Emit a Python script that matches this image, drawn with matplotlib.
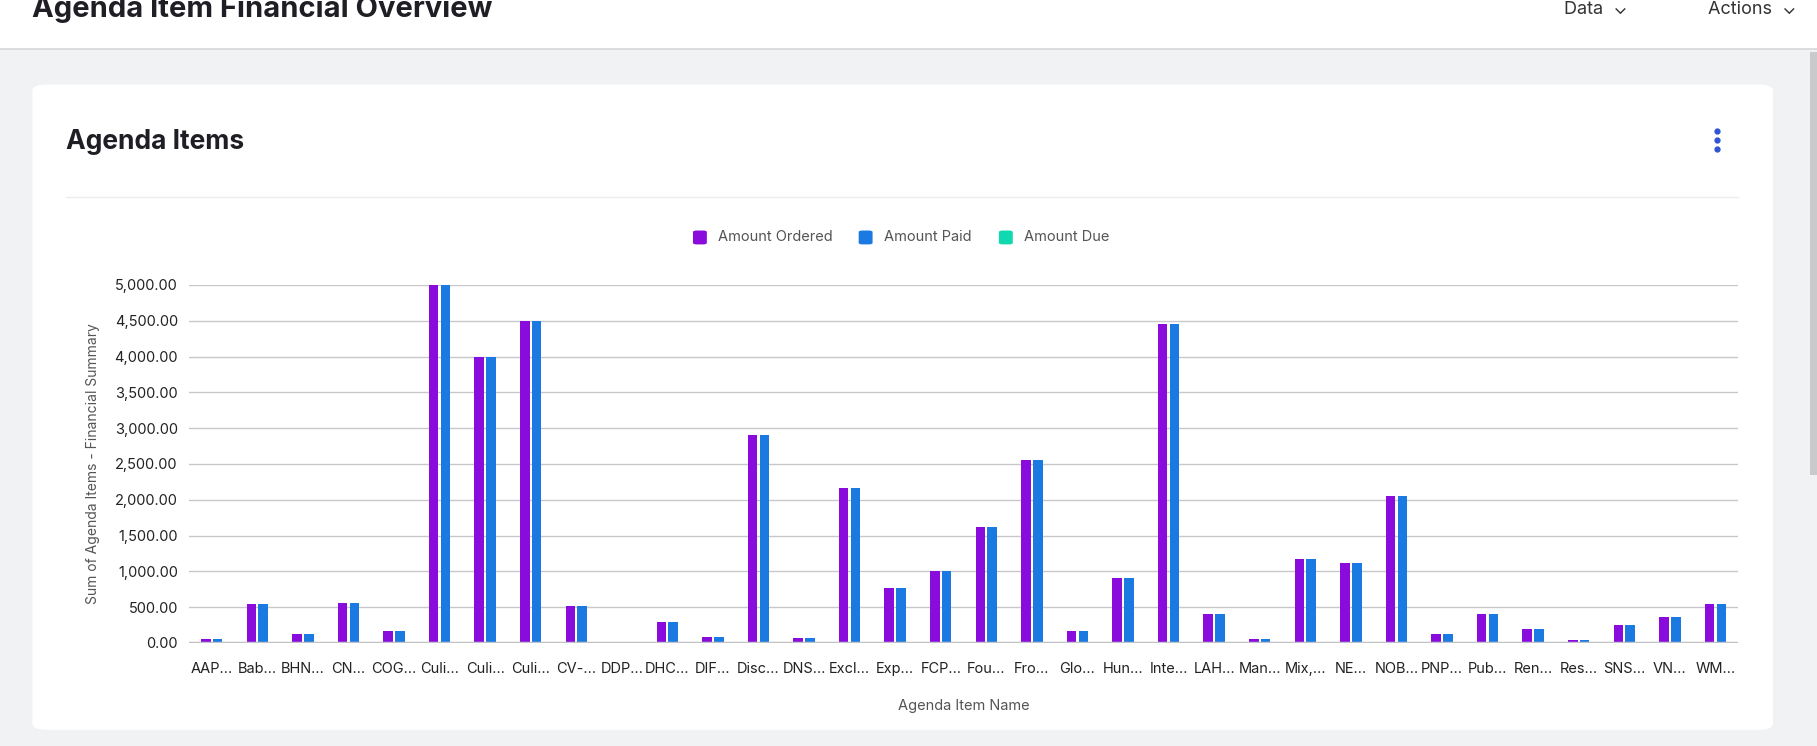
import numpy as np
import matplotlib
matplotlib.use('Agg')
import matplotlib.pyplot as plt
from matplotlib.patches import FancyBboxPatch, Rectangle

plt.rcParams['font.family'] = ['Inter', 'DejaVu Sans']

# ─── Data ──────────────────────────────────────────────────────────────────────
categories = ['AAP…', 'Bab…', 'BHN…', 'CN…', 'COG…', 'Culi…', 'Culi…', 'Culi…', 'CV-…',
              'DDP…', 'DHC…', 'DIF…', 'Disc…', 'DNS…', 'Excl…', 'Exp…', 'FCP…', 'Fou…',
              'Fro…', 'Glo…', 'Hun…', 'Inte…', 'LAH…', 'Man…', 'Mix,…', 'NE…', 'NOB…',
              'PNP…', 'Pub…', 'Ren…', 'Res…', 'SNS…', 'VN…', 'WM…']
amount_ordered = [60, 540, 130, 560, 170, 5000, 4000, 4500, 510, 0, 290, 80, 2900, 70,
                  2160, 770, 1010, 1620, 2550, 160, 900, 4460, 400, 50, 1170, 1120, 2050,
                  120, 410, 190, 40, 250, 360, 540]
amount_paid = list(amount_ordered)
amount_due = [0] * len(categories)
yticks = np.arange(0, 5001, 500)

W, H = 1568, 644
def fx(x): return x / W
def fy(y): return 1 - y / H

fig = plt.figure(figsize=(18.17, 7.46), dpi=100)
fig.patch.set_facecolor('#F1F2F4')

# header bar and card
fig.patches.append(Rectangle((0, fy(42)), 1, 1 - fy(42), transform=fig.transFigure,
                             facecolor='white', edgecolor='none', zorder=0))
fig.add_artist(plt.Line2D([0, 1], [fy(42), fy(42)], color='#D5D7DB', lw=1.2))
fig.patches.append(FancyBboxPatch((fx(28), fy(630)), fx(1530) - fx(28), fy(73) - fy(630),
                                  boxstyle='round,pad=0,rounding_size=0.008',
                                  transform=fig.transFigure, facecolor='white',
                                  edgecolor='none', zorder=0))
fig.add_artist(plt.Line2D([fx(57), fx(1500)], [fy(170), fy(170)], color='#ECEDEF', lw=1))
fig.patches.append(Rectangle((fx(1562), fy(410)), fx(6), fy(45) - fy(410),
                             transform=fig.transFigure, facecolor='#C9CACC', edgecolor='none'))

fig.text(fx(28), fy(8), 'Agenda Item Financial Overview', fontsize=21, fontweight='bold',
         color='#1E1E24', va='center')
fig.text(fx(1350), fy(8), 'Data  ⌄', fontsize=13, color='#333', va='center')
fig.text(fx(1474), fy(8), 'Actions  ⌄', fontsize=13, color='#333', va='center')
fig.text(fx(57), fy(123), 'Agenda Items', fontsize=19, fontweight='bold', color='#1E1E24', va='center')
for dy in (113, 121, 129):
    fig.add_artist(plt.Line2D([fx(1482)], [fy(dy)], marker='o', ms=3.5, color='#2F55D4'))

# legend
for lx, c, t in [(604, '#8A0CDD', 'Amount Ordered'), (747, '#1A7AE2', 'Amount Paid'),
                 (868, '#10D9B0', 'Amount Due')]:
    fig.patches.append(FancyBboxPatch((fx(lx - 6), fy(211)), fx(12), fy(199) - fy(211),
                                      boxstyle='round,pad=0,rounding_size=0.002',
                                      transform=fig.transFigure, facecolor=c, edgecolor='none'))
    fig.text(fx(lx + 16), fy(205), t, fontsize=10.5, color='#555', va='center')

# ─── Chart ─────────────────────────────────────────────────────────────────────
ax = fig.add_axes([fx(163), fy(555), fx(1500) - fx(163), fy(246) - fy(555)])
ax.set_zorder(5)
x = np.arange(len(categories))
bw = 0.21
ax.bar(x - 0.13, amount_ordered, bw, color='#8A0CDD', zorder=3)
ax.bar(x + 0.13, amount_paid, bw, color='#1A7AE2', zorder=3)
ax.bar(x + 0.39, amount_due, bw, color='#10D9B0', zorder=3)
ax.set_xlim(-0.5, len(categories) - 0.5)
ax.set_ylim(0, 5000)
ax.set_yticks(yticks)
ax.set_yticklabels([f'{v:,.2f}' for v in yticks], fontsize=10.5, color='#222')
ax.set_xticks(x)
ax.set_xticklabels(categories, fontsize=10.5, color='#222')
ax.tick_params(length=0, pad=8)
ax.tick_params(axis='x', pad=14)
ax.grid(axis='y', color='#C8C8CC', lw=1, zorder=0)
for s in ax.spines.values():
    s.set_visible(False)
ax.axhline(0, color='#C0C2C6', lw=2.5, zorder=4)
ax.set_facecolor('none')
ax.set_ylabel('Sum of Agenda Items - Financial Summary', fontsize=10, color='#555', labelpad=10)
ax.set_xlabel('Agenda Item Name', fontsize=10.5, color='#555', labelpad=16)

fig.savefig('out.png', dpi=100, facecolor=fig.get_facecolor())
